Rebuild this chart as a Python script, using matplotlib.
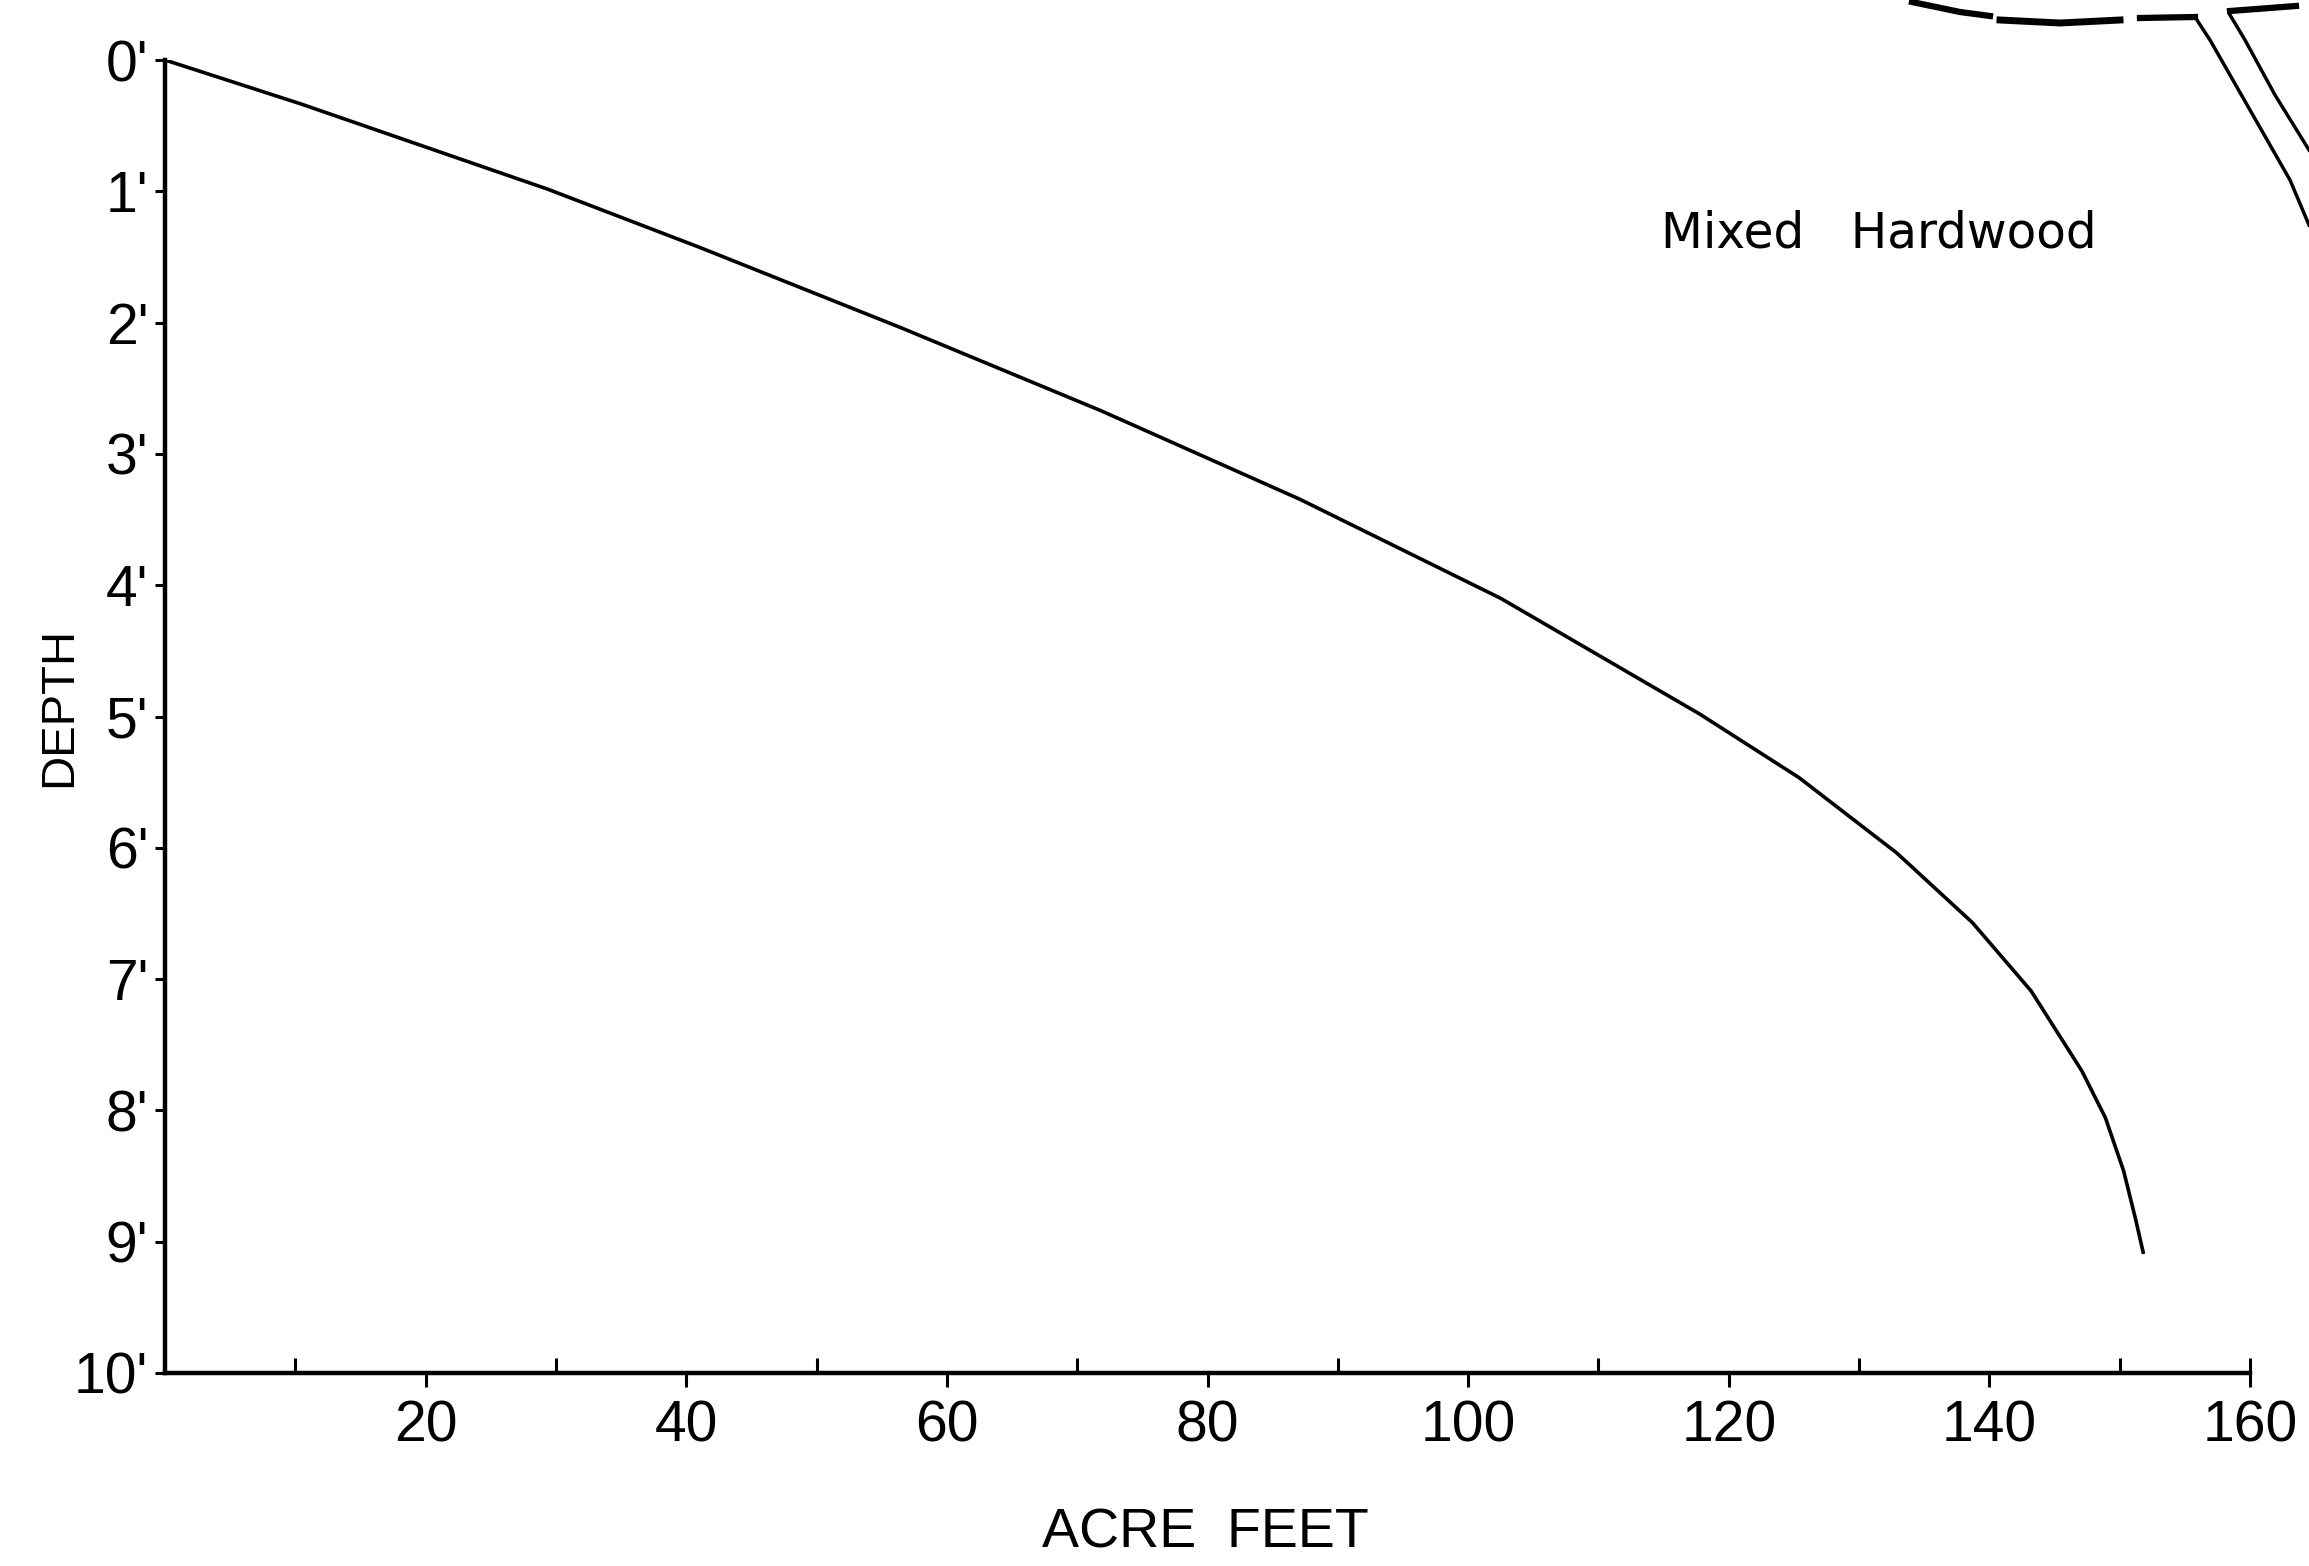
import matplotlib
matplotlib.use("Agg")
import matplotlib.pyplot as plt
from matplotlib.lines import Line2D

# Curva de capacidad: profundidad (pies) contra volumen (acre-pies)
depth = [0, 0.337, 0.985, 1.43, 2.04, 2.67, 3.346, 4.10, 4.983, 5.466,
         6.04, 6.57, 7.09, 7.70, 8.055, 8.46, 8.82, 9.08]
acre_feet = [0, 10.5, 29.4, 41.1, 56.5, 71.8, 87.1, 102.5, 117.8, 125.4,
             132.9, 138.7, 143.2, 147.1, 148.9, 150.3, 151.2, 151.8]

y_ticks = list(range(0, 11))
y_labels = [f"{d}'" for d in y_ticks]
x_major = [20, 40, 60, 80, 100, 120, 140, 160]
x_labels = [str(v) for v in x_major]
x_minor = [10, 30, 50, 70, 90, 110, 130, 150, 160]

W, H = 2309, 1566
fig = plt.figure(figsize=(W / 100, H / 100), dpi=100)
ax = fig.add_axes([165 / W, 1 - 1373 / H, (2250 - 165) / W, (1373 - 60) / H])

ax.plot(acre_feet, depth, color="black", lw=2.6)

ax.set_xlim(0, 160)
ax.set_ylim(10, 0)

for s in ["top", "right"]:
    ax.spines[s].set_visible(False)
for s in ["left", "bottom"]:
    ax.spines[s].set_linewidth(3.2)

tick_font = {"family": "Liberation Sans", "size": 41}

ax.xaxis.remove_overlapping_locs = False
ax.set_xticks(x_major)
ax.set_xticklabels(x_labels, fontdict=tick_font)
ax.set_xticks(x_minor, minor=True)
ax.tick_params(axis="x", which="major", direction="out", length=10, width=2.2, pad=9)
ax.tick_params(axis="x", which="minor", direction="in", length=11, width=2.2)

ax.set_yticks(y_ticks)
ax.set_yticklabels(y_labels, fontdict=tick_font)
ax.tick_params(axis="y", direction="out", length=7, width=2.2, pad=5)

ax.text(114.8, 1.32, "Mixed   Hardwood", fontsize=35, family="DejaVu Sans",
        ha="left", va="center")

fig.text(59 / W, 1 - 707 / H, "DEPTH", rotation=90, ha="center", va="center",
         fontsize=34, family="Liberation Sans")
fig.text(1205 / W, 1 - 1533 / H, "ACRE  FEET", ha="center", va="center",
         fontsize=40, family="Liberation Sans")

# trozo de otro dibujo que asoma en la esquina superior derecha
def fig_line(xs, ys, **kw):
    fig.add_artist(Line2D([x / W for x in xs], [1 - y / H for y in ys],
                          transform=fig.transFigure, color="black", **kw))

fig_line([1912, 1960, 1990], [2, 12, 16], lw=4.5)
fig_line([2000, 2060, 2120], [20, 23, 20], lw=5)
fig_line([2140, 2195], [18, 17], lw=4.5)
fig_line([2195, 2210, 2250, 2290, 2309], [17, 40, 110, 180, 225], lw=2.5)
fig_line([2230, 2245, 2275, 2309], [15, 40, 95, 150], lw=2.5)
fig_line([2230, 2296], [11, 6], lw=4.5)

fig.savefig("out.png", dpi=100, facecolor="white")
